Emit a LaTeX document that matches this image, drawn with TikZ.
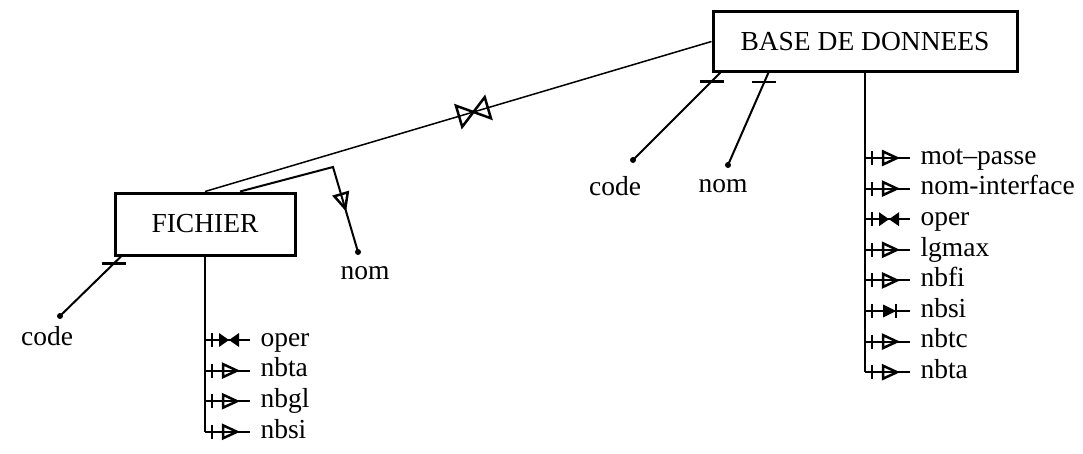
\documentclass[tikz,border=0pt]{standalone}
\usepackage{fontspec}
\setmainfont{Liberation Serif}

\tikzset{
  entity/.style={draw, line width=1.2pt, inner sep=0pt, font=\fontsize{11}{13}\selectfont},
  attr/.style={anchor=west, inner xsep=4pt, inner ysep=0pt, text height=7.5pt, text depth=2.5pt, font=\fontsize{11}{13}\selectfont},
  lbl/.style={inner sep=1pt, font=\fontsize{11}{13}\selectfont},
  branch/.style={line width=0.8pt},
  link/.style={line width=0.6pt},
  % the little signs on the branches
  attrmark/.pic={
    \draw[line width=1pt] (7,-7) -- (7,7);
    \draw[line width=1pt] (18,-6.5) -- (32,0) -- (18,6.5) -- cycle;
  },
  solidmark/.pic={
    \draw[line width=1pt] (7,-7) -- (7,7);
    \fill (18,-6.5) -- (31,0) -- (18,6.5) -- cycle;
    \draw[line width=1pt] (31,-7) -- (31,7);
  },
  opermark/.pic={
    \draw[line width=1pt] (7,-7) -- (7,7);
    \fill (14,-7) -- (34,7) -- (34,-7) -- (14,7) -- cycle;
  },
  opentri/.pic={
    \draw[line width=1pt] (-7,-7) -- (8,0) -- (-7,7) -- cycle;
  },
  opentie/.pic={
    \draw[line width=1pt] (-15,-11) -- (15,11) -- (15,-11) -- (-15,11) -- cycle;
  },
  hbar/.pic={
    \draw[line width=1pt] (-12,0) -- (12,0);
  }
}

\begin{document}
\begin{tikzpicture}[x=0.4pt,y=-0.4pt]
\useasboundingbox (0,0) rectangle (1083,453);

% The two entities
\node[entity, minimum width=121.6pt, minimum height=23.6pt] (bd) at (865,41.5) {BASE DE DONNEES};
\node[entity, minimum width=72pt, minimum height=24.8pt] (fich) at (205,224) {FICHIER};

% The link between them
\draw[link] (bd.west) -- (fich.north) pic[pos=0.47, sloped]{opentie};

% nom and code of FICHIER
\coordinate (fnom-bend) at (333,167);
\coordinate (fnom-end) at (358,252);
\node[lbl] (fnom) at (365,273) {nom};
\draw[branch] ([xshift=14pt]fich.north) -- (fnom-bend) -- (fnom-end) pic[pos=0.4, sloped]{opentri};
\fill (fnom-end) circle (1.2pt);

\coordinate (fcode-end) at (60,316);
\node[lbl] (fcode) at (47,336) {code};
\draw[branch] ([xshift=3pt]fich.south west) -- (fcode-end) pic[pos=0.12]{hbar};
\fill (fcode-end) circle (1.2pt);

% code and nom of BASE DE DONNEES
\coordinate (bcode-end) at (633,160);
\coordinate (bnom-end) at (728,165);
\node[lbl] (bcode) at (615,186) {code};
\node[lbl] (bnom) at (723,186) {nom};
\draw[branch] ([xshift=3.6pt]bd.south west) -- (bcode-end) pic[pos=0.1]{hbar};
\draw[branch] ([xshift=22.8pt]bd.south west) -- (bnom-end) pic[pos=0.1]{hbar};
\fill (bcode-end) circle (1.2pt);
\fill (bnom-end) circle (1.2pt);

% The attributes of BASE DE DONNEES
\foreach \name/\mark [count=\i] in {mot–passe/attrmark, nom-interface/attrmark, oper/opermark, lgmax/attrmark, nbfi/attrmark, nbsi/solidmark, nbtc/attrmark, nbta/attrmark}
{
	\node[attr] (bd-\i) at (910,{127.4+30.6*\i}) {\name};
	\draw[branch] (bd.south |- bd-\i.west) -- (bd-\i.west) pic[pos=0]{\mark};
}
\draw[branch] (bd.south) -- (bd.south |- bd-8.west);

% The attributes of FICHIER
\foreach \name/\mark [count=\i] in {oper/opermark, nbta/attrmark, nbgl/attrmark, nbsi/attrmark}
{
	\node[attr] (fi-\i) at (250,{309.4+30.6*\i}) {\name};
	\draw[branch] (fich.south |- fi-\i.west) -- (fi-\i.west) pic[pos=0]{\mark};
}
\draw[branch] (fich.south) -- (fich.south |- fi-4.west);

\end{tikzpicture}
\end{document}
